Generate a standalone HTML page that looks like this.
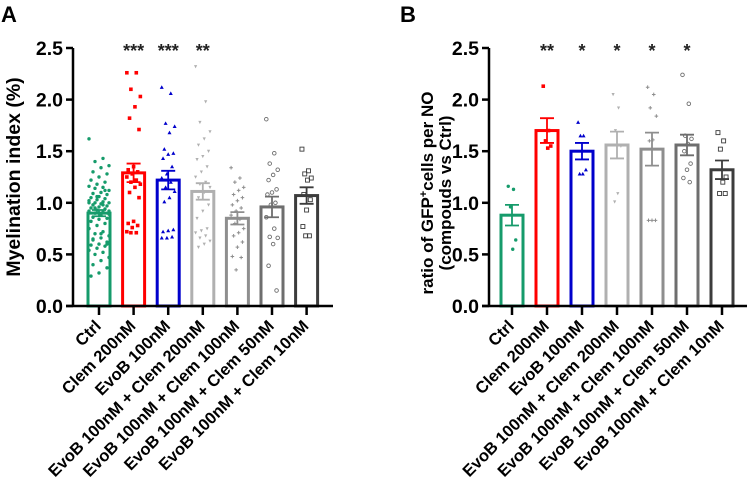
<!DOCTYPE html>
<html><head><meta charset="utf-8"><style>
body{margin:0;background:#fff;}
svg{display:block;font-family:"Liberation Sans",Arial,sans-serif;}
</style></head><body>
<svg id="c" width="749" height="481" viewBox="0 0 749 481"></svg>
<script>
const categories=["Ctrl","Clem 200nM","EvoB 100nM","EvoB 100nM + Clem 200nM","EvoB 100nM + Clem 100nM","EvoB 100nM + Clem 50nM","EvoB 100nM + Clem 10nM"];
const colors=["#169b6b","#ff0000","#0000cc","#b0b0b0","#8e8e8e","#6e6e6e","#3c3c3c"];
const markers=["dot","square","tri","itri","plus","ocircle","osquare"];
const meansA=[0.90,1.29,1.22,1.11,0.85,0.96,1.07];
const semA=[0.03,0.09,0.09,0.08,0.06,0.10,0.08];
const starsA=["","***","***","**","","",""];
const pointsA=[
[1.62,1.43,1.40,1.36,1.34,1.30,1.28,1.25,1.22,1.20,1.18,1.16,1.15,1.14,1.12,1.10,1.09,1.08,1.06,1.05,1.04,1.03,1.02,1.01,1.00,1.00,0.99,0.98,0.97,0.96,0.95,0.94,0.93,0.92,0.91,0.90,0.89,0.88,0.86,0.85,0.84,0.82,0.80,0.78,0.75,0.72,0.70,0.68,0.66,0.64,0.62,0.60,0.59,0.58,0.56,0.54,0.52,0.50,0.47,0.44,0.40,0.37,0.32,0.29,1.12,1.06,1.00,0.98,0.95,0.92,0.70,0.65,0.60],
[2.26,2.26,2.10,2.03,1.93,1.82,1.71,1.35,1.32,1.30,1.28,1.25,1.22,1.20,1.18,1.15,1.10,1.05,0.82,0.80,0.78,0.76,0.72,0.71,0.71],
[2.12,2.06,1.77,1.74,1.68,1.52,1.48,1.47,1.43,1.35,1.28,1.24,1.20,1.15,1.11,1.05,1.01,0.74,0.73,0.72,0.67,0.66,0.66],
[2.32,1.98,1.78,1.69,1.62,1.56,1.50,1.45,1.42,1.35,1.30,1.25,1.20,1.18,1.15,1.10,1.05,0.98,0.92,0.85,0.75,0.73,0.71,0.68,0.66,0.63,0.60,0.57],
[1.34,1.24,1.20,1.15,1.12,1.08,1.05,1.02,0.98,0.95,0.92,0.88,0.84,0.80,0.75,0.71,0.68,0.62,0.57,0.48,0.47,0.35],
[1.81,1.48,1.38,1.32,1.27,1.22,1.13,1.10,1.08,1.00,0.98,0.86,0.75,0.67,0.66,0.60,0.39,0.15],
[1.52,1.31,1.28,1.24,1.22,1.08,1.03,0.93,0.77,0.68,0.68]
];
const meansB=[0.88,1.70,1.50,1.56,1.52,1.56,1.32];
const semB=[0.10,0.12,0.08,0.13,0.16,0.10,0.09];
const starsB=["","**","*","*","*","*",""];
const pointsB=[
[1.16,1.13,0.96,0.64,0.55],
[2.13,1.70,1.60,1.55,1.53],
[1.78,1.65,1.65,1.32,1.28,1.28],
[2.05,1.92,1.70,1.55,1.09,1.01],
[2.12,2.05,1.92,1.84,1.61,1.60,0.83,0.83,0.83],
[2.24,1.96,1.65,1.62,1.57,1.50,1.38,1.32,1.24,1.20],
[1.68,1.60,1.52,1.25,1.20,1.09,1.09]
];
const yTicks=[0.0,0.5,1.0,1.5,2.0,2.5];
const NS="http://www.w3.org/2000/svg";
const svg=document.getElementById("c");
function mk(t,a,p){const e=document.createElementNS(NS,t);for(const k in a)e.setAttribute(k,a[k]);(p||svg).appendChild(e);return e;}
const Y0=306,Y1=48,YMAX=2.5;
function ys(v){return Y0-(v/YMAX)*(Y0-Y1);}

function panel(opt){
  const g=mk("g",{});
  
  
  const ax=opt.axisX, x0=opt.x0, step=opt.step, bw=22;
  function xs(i){return x0+i*step;}
  opt.means.forEach((m,i)=>{
    const r=mk("rect",{x:xs(i)-bw/2,y:ys(m),width:bw,height:Y0-ys(m),fill:"#fff",stroke:colors[i],"stroke-width":3},g);
    
    
  });
  opt.points.forEach((arr,i)=>{
    const c=colors[i];
    arr.forEach((v,j)=>{
      const n=arr.length;
      const spread=Math.min(10,3+n*0.15);
      const off=((j*7)%11-5)/5*spread;
      const px=xs(i)+off, py=ys(v);
      let e;
      switch(markers[i]){
        case "dot": e=mk("circle",{cx:px,cy:py,r:1.7,fill:c},g);break;
        case "square": e=mk("rect",{x:px-1.8,y:py-1.8,width:3.6,height:3.6,fill:c},g);break;
        case "tri": e=mk("polygon",{points:`${px},${py-2} ${px-2},${py+1.6} ${px+2},${py+1.6}`,fill:c},g);break;
        case "itri": e=mk("polygon",{points:`${px},${py+1.8} ${px-1.6},${py-1.4} ${px+1.6},${py-1.4}`,fill:c},g);break;
        case "plus": e=mk("path",{d:`M${px-1.8},${py}H${px+1.8}M${px},${py-1.8}V${py+1.8}`,stroke:c,"stroke-width":1},g);break;
        case "ocircle": e=mk("circle",{cx:px,cy:py,r:1.8,fill:"none",stroke:c,"stroke-width":0.9},g);break;
        default: e=mk("rect",{x:px-2,y:py-2,width:4,height:4,fill:"none",stroke:c,"stroke-width":0.9},g);
      }
      
      
    });
  });
  opt.means.forEach((m,i)=>{
    const s=opt.sem[i],x=xs(i),c=colors[i];
    const e=mk("path",{d:`M${x},${ys(m+s)}V${ys(m-s)}M${x-7},${ys(m+s)}H${x+7}M${x-7},${ys(m-s)}H${x+7}`,stroke:c,"stroke-width":1.8,fill:"none"},g);
    
    
    if(opt.stars[i]){
      const t=mk("text",{x:x,y:57,"text-anchor":"middle","font-size":18,"font-weight":"bold",fill:"#222"},g);
      t.textContent=opt.stars[i];
      
      
    }
  });
  const yAx=mk("path",{d:`M${ax},${Y1}V${Y0}`,stroke:"#000","stroke-width":2.5},g);
  
  
  const xAx=mk("path",{d:`M${ax-7},${Y0}H${opt.axisEnd}`,stroke:"#000","stroke-width":2.5},g);
  
  
  yTicks.forEach(v=>{
    mk("path",{d:`M${ax-7},${ys(v)}H${ax}`,stroke:"#000","stroke-width":2.5},g);
    const t=mk("text",{x:ax-10,y:ys(v)+7,"text-anchor":"end","font-size":19.5,"font-weight":"bold"},g);
    t.textContent=v.toFixed(1);
    
    
  });
  categories.forEach((c,i)=>{
    const x=xs(i);
    mk("path",{d:`M${x},${Y0}V${Y0+9}`,stroke:"#000","stroke-width":2.5},g);
    const t=mk("text",{x:x+3,y:Y0+21,"text-anchor":"end","font-size":16.5,"font-weight":"bold",transform:`rotate(-45 ${x+3} ${Y0+21})`},g);
    t.textContent=c;
    
    
  });
  const L=mk("text",{x:opt.lx,y:22,"font-size":22,"font-weight":"bold"},g);
  L.textContent=opt.letter;
  
  
  return g;
}
panel({name:"panel-a",axisX:73,x0:99,step:34.6,axisEnd:333,means:meansA,sem:semA,points:pointsA,stars:starsA,letter:"A",lx:1});
panel({name:"panel-b",axisX:489,x0:512,step:35,axisEnd:747,means:meansB,sem:semB,points:pointsB,stars:starsB,letter:"B",lx:400});

let t=mk("text",{x:0,y:0,"text-anchor":"middle","font-size":19.5,"font-weight":"bold",transform:"translate(20 177) rotate(-90)"});
t.textContent="Myelination index (%)";


t=mk("text",{x:0,y:0,"text-anchor":"middle","font-size":17,"font-weight":"bold",transform:"translate(433 193) rotate(-90)"});
t.innerHTML='ratio of GFP<tspan dy="-6" font-size="11">+</tspan><tspan dy="6">cells per NO</tspan>';


t=mk("text",{x:0,y:0,"text-anchor":"middle","font-size":17,"font-weight":"bold",transform:"translate(451 193) rotate(-90)"});
t.textContent='(compouds vs Ctrl)';


</script>
</body></html>
